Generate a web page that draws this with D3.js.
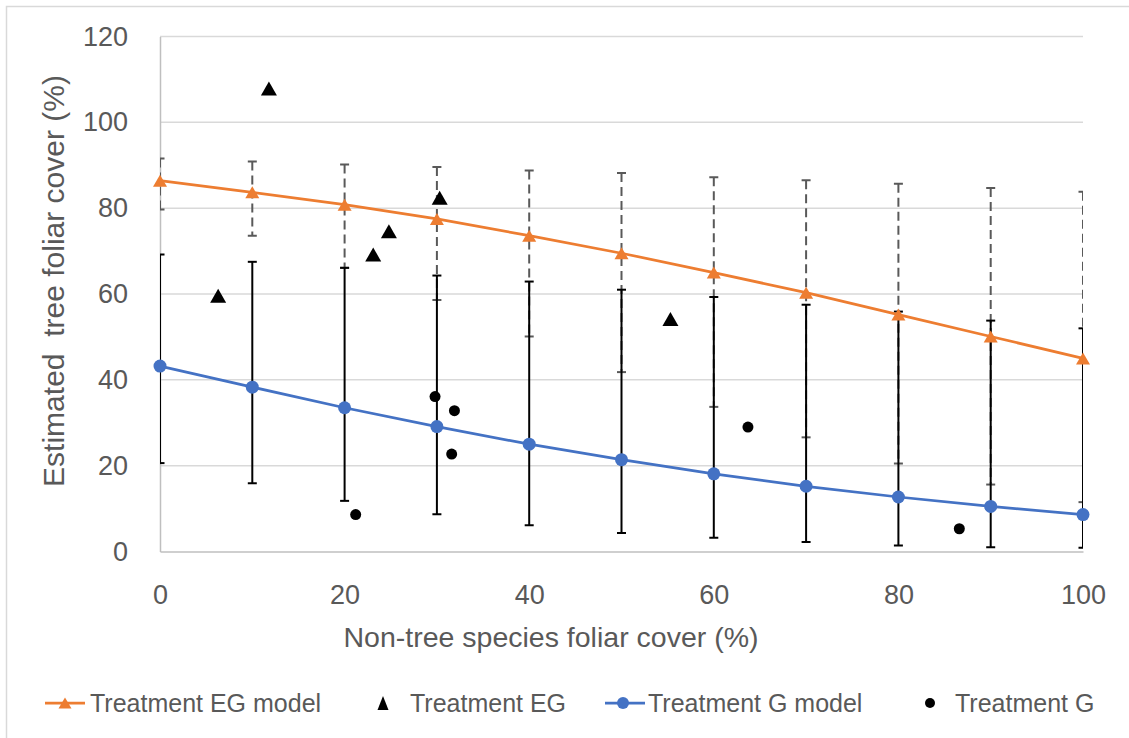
<!DOCTYPE html>
<html>
<head>
<meta charset="utf-8">
<script src="https://cdn.jsdelivr.net/npm/d3@7"></script>
<style>
  body { margin: 0; background: #fff; }
  text { font-family: "Liberation Sans", Arial, sans-serif; fill: #595959; }
</style>
</head>
<body>
<div id="chart-area"></div>
<script>
// model x positions (non-tree cover %)
const xModel = [0, 10, 20, 30, 40, 50, 60, 70, 80, 90, 100];

// Treatment EG model + error range
const egModel = [86.4, 83.7, 80.8, 77.5, 73.6, 69.5, 65.0, 60.3, 55.2, 50.1, 45.0];
const egUpper = [91.6, 90.9, 90.2, 89.6, 88.8, 88.2, 87.2, 86.5, 85.7, 84.7, 83.8];
const egLower = [79.7, 73.6, 66.1, 58.6, 50.1, 41.8, 33.7, 26.6, 20.5, 15.6, 11.5];

// Treatment G model + error range
const gModel = [43.2, 38.3, 33.5, 29.1, 25.0, 21.4, 18.1, 15.2, 12.7, 10.5, 8.6];
const gUpper = [69.2, 67.5, 66.1, 64.3, 62.9, 61.0, 59.3, 57.5, 55.9, 53.8, 52.0];
const gLower = [20.6, 15.9, 11.8, 8.7, 6.1, 4.3, 3.2, 2.2, 1.4, 1.0, 0.9];

// observed plots
const egObsX = [6.3, 11.8, 23.1, 24.8, 30.3, 55.3];
const egObsY = [59.6, 107.9, 69.2, 74.6, 82.4, 54.2];
const gObsX = [21.2, 29.8, 31.9, 31.6, 63.7, 86.6];
const gObsY = [8.6, 36.1, 32.8, 22.7, 29.0, 5.3];

const xTicks = [0, 20, 40, 60, 80, 100];
const yTicks = [0, 20, 40, 60, 80, 100, 120];

const legendItems = ["Treatment EG model", "Treatment EG", "Treatment G model", "Treatment G"];

const W = 1129, H = 738;
const orange = "#ED7D31", blue = "#4472C4";

const svg = d3.select("#chart-area").append("svg")
    .attr("width", W)
    .attr("height", H);

// chart border
svg.append("rect")
    .attr("x", 6.5).attr("y", 6.5)
    .attr("width", 1300).attr("height", 900)
    .attr("fill", "none")
    .attr("stroke", "#d9d9d9")
    .attr("stroke-width", 1.5);

const x = d3.scaleLinear().domain([0, 100]).range([160, 1083]);
const y = d3.scaleLinear().domain([0, 120]).range([551.5, 36.5]);

svg.append("defs").append("clipPath").attr("id", "plot")
  .append("rect")
    .attr("x", x(0)).attr("y", y(120) - 2)
    .attr("width", x(100) - x(0)).attr("height", y(0) - y(120) + 2);

// gridlines
svg.append("g").selectAll("line")
  .data(yTicks.filter(d => d > 0))
  .enter().append("line")
    .attr("x1", x(0)).attr("x2", x(100))
    .attr("y1", d => y(d)).attr("y2", d => y(d))
    .attr("stroke", "#d9d9d9")
    .attr("stroke-width", 1.5);

// axes (no tick marks, just the lines + labels)
const yAxis = d3.axisLeft(y).tickValues(yTicks).tickSize(0).tickPadding(32);
const yG = svg.append("g").attr("transform", "translate(" + x(0) + ",0)").call(yAxis);
const xAxis = d3.axisBottom(x).tickValues(xTicks).tickSize(0).tickPadding(33);
const xG = svg.append("g").attr("transform", "translate(0," + y(0) + ")").call(xAxis);
[yG, xG].forEach(function(g){
  g.select(".domain").attr("stroke", "#bfbfbf").attr("stroke-width", 1.5);
  g.selectAll("text").style("font-size", "27px").attr("fill", "#595959")
    .style("font-family", "Liberation Sans, Arial, sans-serif");
});
xG.selectAll("text").attr("dy", "0.71em");

// error bars
const bars = svg.append("g").attr("clip-path", "url(#plot)");

function errorBars(lo, hi, stroke, dash) {
  const g = bars.append("g")
      .attr("stroke", stroke)
      .attr("stroke-width", 2)
      .attr("fill", "none");
  g.selectAll("line.v")
    .data(xModel)
    .enter().append("line")
      .attr("class", "v")
      .attr("x1", d => x(d)).attr("x2", d => x(d))
      .attr("y1", (d, i) => y(hi[i])).attr("y2", (d, i) => y(lo[i]))
      .attr("stroke-dasharray", dash);
  [hi, lo].forEach(function(arr){
    g.selectAll(null)
      .data(xModel)
      .enter().append("line")
        .attr("x1", d => x(d) - 4.5).attr("x2", d => x(d) + 4.5)
        .attr("y1", (d, i) => y(arr[i])).attr("y2", (d, i) => y(arr[i]));
  });
}
errorBars(egLower, egUpper, "#595959", "9,5");
errorBars(gLower, gUpper, "#000", null);

// model lines
const line = d3.line().x(d => x(d[0])).y(d => y(d[1]));

function tri(w, h) {
  return "M0," + (-h / 2) + "L" + (w / 2) + "," + (h / 2) + "L" + (-w / 2) + "," + (h / 2) + "Z";
}

svg.append("path")
    .datum(xModel.map((d, i) => [d, egModel[i]]))
    .attr("fill", "none")
    .attr("stroke", orange)
    .attr("stroke-width", 2.75)
    .attr("d", line);
svg.append("g").selectAll("path")
  .data(xModel)
  .enter().append("path")
    .attr("transform", (d, i) => "translate(" + x(d) + "," + y(egModel[i]) + ")")
    .attr("d", tri(14, 12))
    .attr("fill", orange);

svg.append("path")
    .datum(xModel.map((d, i) => [d, gModel[i]]))
    .attr("fill", "none")
    .attr("stroke", blue)
    .attr("stroke-width", 2.75)
    .attr("d", line);
svg.append("g").selectAll("circle")
  .data(xModel)
  .enter().append("circle")
    .attr("cx", d => x(d))
    .attr("cy", (d, i) => y(gModel[i]))
    .attr("r", 6.5)
    .attr("fill", blue);

// observed points
svg.append("g").selectAll("path")
  .data(egObsX)
  .enter().append("path")
    .attr("transform", (d, i) => "translate(" + x(d) + "," + y(egObsY[i]) + ")")
    .attr("d", tri(16, 14))
    .attr("fill", "#000");
svg.append("g").selectAll("circle")
  .data(gObsX)
  .enter().append("circle")
    .attr("cx", d => x(d))
    .attr("cy", (d, i) => y(gObsY[i]))
    .attr("r", 5.5)
    .attr("fill", "#000");

// axis titles
svg.append("text")
    .attr("x", 551)
    .attr("y", 647)
    .attr("text-anchor", "middle")
    .style("font-size", "28.5px")
    .text("Non-tree species foliar cover (%)");

svg.append("text")
    .attr("transform", "translate(64,281) rotate(-90)")
    .attr("text-anchor", "middle")
    .style("font-size", "30px")
    .style("white-space", "pre")
    .text("Estimated  tree foliar cover (%)");

// legend
const legY = 703;
const leg = svg.append("g");
const legText = [90, 410, 648, 955];

// EG model
leg.append("line").attr("x1", 45).attr("x2", 85).attr("y1", legY).attr("y2", legY)
    .attr("stroke", orange).attr("stroke-width", 2.75);
leg.append("path").attr("transform", "translate(65," + legY + ")").attr("d", tri(13, 11)).attr("fill", orange);
// EG obs
leg.append("path").attr("transform", "translate(383," + legY + ")").attr("d", tri(11, 14)).attr("fill", "#000");
// G model
leg.append("line").attr("x1", 605).attr("x2", 645).attr("y1", legY).attr("y2", legY)
    .attr("stroke", blue).attr("stroke-width", 2.75);
leg.append("circle").attr("cx", 623).attr("cy", legY).attr("r", 6).attr("fill", blue);
// G obs
leg.append("circle").attr("cx", 930).attr("cy", legY).attr("r", 5).attr("fill", "#000");

leg.selectAll("text")
  .data(legendItems)
  .enter().append("text")
    .attr("x", (d, i) => legText[i])
    .attr("y", legY)
    .attr("dy", "0.36em")
    .style("font-size", "25px")
    .text(d => d);
</script>
</body>
</html>
